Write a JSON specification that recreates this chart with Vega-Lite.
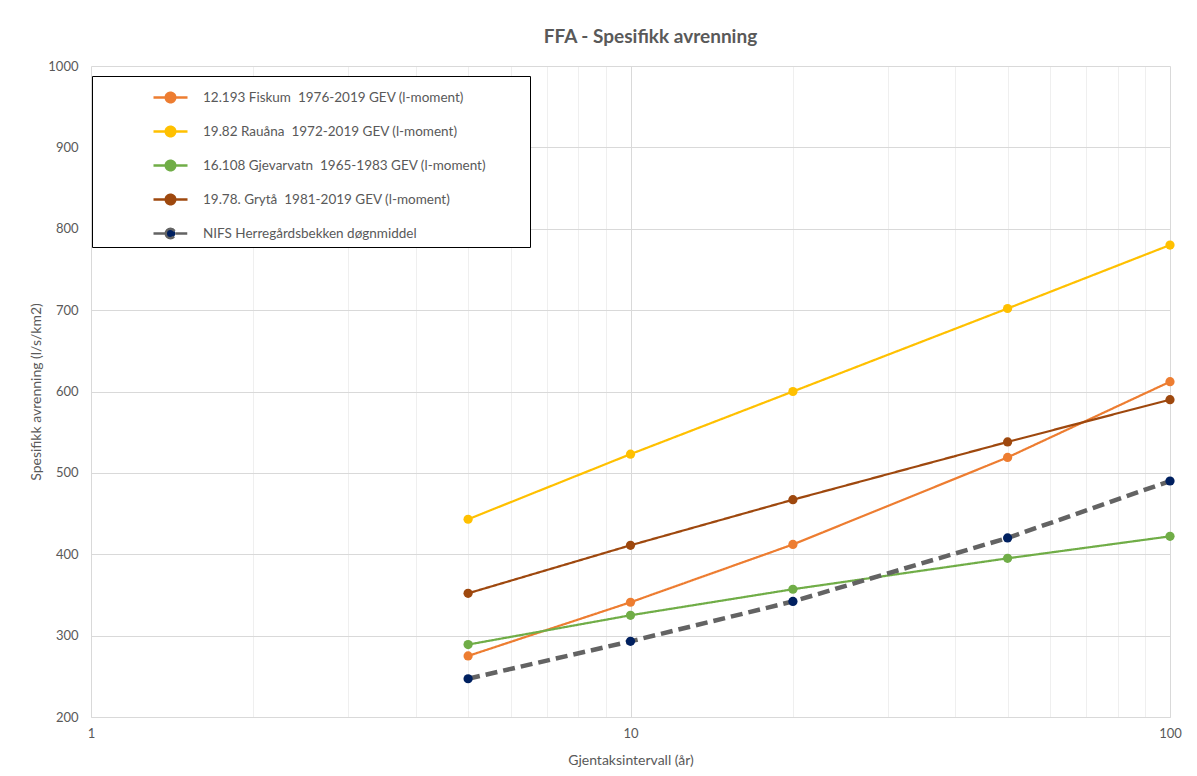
{
  "$schema": "https://vega.github.io/schema/vega-lite/v6.json",
  "autosize": {"type": "none"},
  "width": 1079,
  "height": 651,
  "padding": {"left": 91, "top": 66, "right": 27, "bottom": 59},
  "background": "white",
  "title": {"text": "FFA - Spesifikk avrenning", "fontSize": 19, "fontWeight": "bold", "color": "#595959", "font": "Lato", "anchor": "middle", "offset": 13, "dx": 20},
  "config": {"view": {"stroke": null}, "font": "Lato"},
  "data": {"values": [
    {"series": "12.193 Fiskum \u00a01976-2019 GEV (l-moment)", "T": 5, "q": 275},
    {"series": "12.193 Fiskum \u00a01976-2019 GEV (l-moment)", "T": 10, "q": 341},
    {"series": "12.193 Fiskum \u00a01976-2019 GEV (l-moment)", "T": 20, "q": 412},
    {"series": "12.193 Fiskum \u00a01976-2019 GEV (l-moment)", "T": 50, "q": 519},
    {"series": "12.193 Fiskum \u00a01976-2019 GEV (l-moment)", "T": 100, "q": 612},
    {"series": "19.82 Rauåna \u00a01972-2019 GEV (l-moment)", "T": 5, "q": 443},
    {"series": "19.82 Rauåna \u00a01972-2019 GEV (l-moment)", "T": 10, "q": 523},
    {"series": "19.82 Rauåna \u00a01972-2019 GEV (l-moment)", "T": 20, "q": 600},
    {"series": "19.82 Rauåna \u00a01972-2019 GEV (l-moment)", "T": 50, "q": 702},
    {"series": "19.82 Rauåna \u00a01972-2019 GEV (l-moment)", "T": 100, "q": 780},
    {"series": "16.108 Gjevarvatn \u00a01965-1983 GEV (l-moment)", "T": 5, "q": 289},
    {"series": "16.108 Gjevarvatn \u00a01965-1983 GEV (l-moment)", "T": 10, "q": 325},
    {"series": "16.108 Gjevarvatn \u00a01965-1983 GEV (l-moment)", "T": 20, "q": 357},
    {"series": "16.108 Gjevarvatn \u00a01965-1983 GEV (l-moment)", "T": 50, "q": 395},
    {"series": "16.108 Gjevarvatn \u00a01965-1983 GEV (l-moment)", "T": 100, "q": 422},
    {"series": "19.78. Grytå \u00a01981-2019 GEV (l-moment)", "T": 5, "q": 352},
    {"series": "19.78. Grytå \u00a01981-2019 GEV (l-moment)", "T": 10, "q": 411},
    {"series": "19.78. Grytå \u00a01981-2019 GEV (l-moment)", "T": 20, "q": 467},
    {"series": "19.78. Grytå \u00a01981-2019 GEV (l-moment)", "T": 50, "q": 538},
    {"series": "19.78. Grytå \u00a01981-2019 GEV (l-moment)", "T": 100, "q": 590},
    {"series": "NIFS Herregårdsbekken døgnmiddel", "T": 5, "q": 247},
    {"series": "NIFS Herregårdsbekken døgnmiddel", "T": 10, "q": 293},
    {"series": "NIFS Herregårdsbekken døgnmiddel", "T": 20, "q": 342},
    {"series": "NIFS Herregårdsbekken døgnmiddel", "T": 50, "q": 420},
    {"series": "NIFS Herregårdsbekken døgnmiddel", "T": 100, "q": 490}
  ]},
  "encoding": {
    "x": {"field": "T", "type": "quantitative",
      "scale": {"type": "log", "domain": [1, 100], "nice": false},
      "axis": {"title": "Gjentaksintervall (år)", "values": [1,2,3,4,5,6,7,8,9,10,20,30,40,50,60,70,80,90,100],
        "labelExpr": "indexof([1,10,100], datum.value) >= 0 ? '' + datum.value : ''",
        "gridColor": {"condition": {"test": "indexof([1,10,100], datum.value) >= 0", "value": "#d9d9d9"}, "value": "#efefef"},
        "ticks": false, "domainColor": "#d9d9d9", "labelFontSize": 13, "labelColor": "#595959", "labelPadding": 10,
        "titleFontSize": 14, "titleFontWeight": "normal", "titleColor": "#595959", "titlePadding": 13, "labelFlush": false}},
    "y": {"field": "q", "type": "quantitative",
      "scale": {"domain": [200, 1000], "nice": false, "zero": false},
      "axis": {"title": "Spesifikk avrenning (l/s/km2)", "values": [200,300,400,500,600,700,800,900,1000], "format": "d",
        "gridColor": "#d9d9d9", "ticks": false, "domain": false, "labelFontSize": 13, "labelColor": "#595959", "labelPadding": 13,
        "titleFontSize": 14, "titleFontWeight": "normal", "titleColor": "#595959", "titlePadding": 4}}
  },
  "layer": [
    {
      "mark": {"type": "line", "strokeCap": "butt"},
      "encoding": {
        "stroke": {"field": "series", "type": "nominal",
          "scale": {"domain": ["12.193 Fiskum \u00a01976-2019 GEV (l-moment)", "19.82 Rauåna \u00a01972-2019 GEV (l-moment)", "16.108 Gjevarvatn \u00a01965-1983 GEV (l-moment)", "19.78. Grytå \u00a01981-2019 GEV (l-moment)", "NIFS Herregårdsbekken døgnmiddel"],
            "range": ["#ED7D31", "#FFC000", "#70AD47", "#9E480E", "#636363"]},
          "legend": {"orient": "none", "legendX": 1, "legendY": 10, "title": "\u00a0", "titleOrient": "right", "titlePadding": 41, "titleFontSize": 10,
            "strokeColor": "#000000", "fillColor": "white", "padding": 3, "rowPadding": 5,
            "symbolType": "M-1,0L-0.28,0M0.28,0L1,0M-0.28,0A0.28,0.28,0,1,1,0.28,0A0.28,0.28,0,1,1,-0.28,0Z",
            "symbolSize": 1156, "symbolStrokeWidth": 2.5, "symbolOffset": 57, "labelOffset": 14,
            "labelFontSize": 13.5, "labelColor": "#595959", "labelLimit": 500,
            "encode": {"symbols": {"update": {"fill": {"scale": "fill", "field": "value"}, "strokeDash": {"scale": "strokeDash", "field": "value"}}}}}},
        "strokeWidth": {"condition": {"test": "datum.series == 'NIFS Herregårdsbekken døgnmiddel'", "value": 4.5}, "value": 2.2},
        "strokeDash": {"field": "series", "type": "nominal", "legend": null,
          "scale": {"domain": ["12.193 Fiskum \u00a01976-2019 GEV (l-moment)", "19.82 Rauåna \u00a01972-2019 GEV (l-moment)", "16.108 Gjevarvatn \u00a01965-1983 GEV (l-moment)", "19.78. Grytå \u00a01981-2019 GEV (l-moment)", "NIFS Herregårdsbekken døgnmiddel"],
            "range": [[1, 0], [1, 0], [1, 0], [1, 0], [12, 6]]}}
      }
    },
    {
      "mark": {"type": "circle", "opacity": 1, "size": 85},
      "encoding": {
        "fill": {"field": "series", "type": "nominal", "legend": null,
          "scale": {"domain": ["12.193 Fiskum \u00a01976-2019 GEV (l-moment)", "19.82 Rauåna \u00a01972-2019 GEV (l-moment)", "16.108 Gjevarvatn \u00a01965-1983 GEV (l-moment)", "19.78. Grytå \u00a01981-2019 GEV (l-moment)", "NIFS Herregårdsbekken døgnmiddel"],
            "range": ["#ED7D31", "#FFC000", "#70AD47", "#9E480E", "#002060"]}}
      }
    }
  ]
}
